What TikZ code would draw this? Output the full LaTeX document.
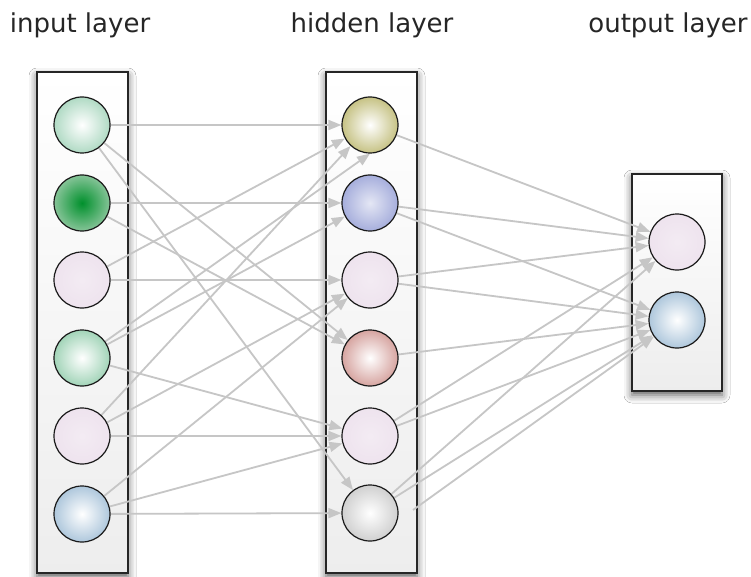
\documentclass[tikz,border=0pt]{standalone}
\usepackage{fontspec}
\setmainfont{DejaVu Sans}
\usetikzlibrary{arrows.meta,shadows.blur}
\definecolor{edgegray}{HTML}{C6C6C6}
\definecolor{mintA}{HTML}{B0DAC4}
\definecolor{mintB}{HTML}{A2D4B8}
\definecolor{darkgreen}{HTML}{00902C}
\definecolor{lightgreen}{HTML}{86C498}
\definecolor{lav}{HTML}{EEE3EE}
\definecolor{paleblue}{HTML}{AEC7DC}
\definecolor{olive}{HTML}{C6C284}
\definecolor{peri}{HTML}{A6AEDC}
\definecolor{pinkred}{HTML}{D6A4A0}
\definecolor{lgray}{HTML}{D0D0D0}
\pgfdeclarelayer{bg}
\pgfdeclarelayer{edges}
\pgfsetlayers{bg,edges,main}
\begin{document}
\begin{tikzpicture}[x=1pt,y=-1pt,
  layerbox/.style={draw=black!85, line width=1.5pt, top color=white, bottom color=black!7,
    blur shadow={shadow xshift=0pt, shadow yshift=-4pt, shadow blur radius=8pt, shadow opacity=65}},
  neuron/.style={circle, draw=black!90, line width=1.2pt, minimum size=56pt, inner sep=0pt},
  edge/.style={draw=edgegray, line width=1.8pt, -{Triangle[length=13pt,width=10pt]}},
  lbl/.style={font=\fontsize{26pt}{30pt}\selectfont, text=black!85, anchor=base, inner sep=0pt}
]
\useasboundingbox (0,0) rectangle (751,577);
\begin{pgfonlayer}{bg}
\fill[white] (0,0) rectangle (751,577);
\node[layerbox, minimum width=91pt, minimum height=501pt] (inbox) at (82.5,322.5) {};
\node[layerbox, minimum width=91pt, minimum height=501pt] (hidbox) at (371.5,322.5) {};
\node[layerbox, minimum width=90pt, minimum height=217pt] (outbox) at (677,282.5) {};
\end{pgfonlayer}

\node[lbl] (tin) at (80,33) {input layer};
\node[lbl] (thid) at (372,33) {hidden layer};
\node[lbl] (tout) at (668,33) {output layer};

% input neurons
\node[neuron, inner color=white, outer color=mintA] (I1) at (82,125) {};
\node[neuron, inner color=darkgreen, outer color=lightgreen] (I2) at (82,203) {};
\node[neuron, inner color=lav!70!white, outer color=lav] (I3) at (82,280) {};
\node[neuron, inner color=white, outer color=mintB] (I4) at (82,358) {};
\node[neuron, inner color=lav!70!white, outer color=lav] (I5) at (82,436) {};
\node[neuron, inner color=white, outer color=paleblue] (I6) at (82,514) {};

% hidden neurons
\node[neuron, inner color=white, outer color=olive] (H1) at (370,125) {};
\node[neuron, inner color=peri!30!white, outer color=peri] (H2) at (370,203) {};
\node[neuron, inner color=lav!70!white, outer color=lav] (H3) at (370,280) {};
\node[neuron, inner color=white, outer color=pinkred] (H4) at (370,358) {};
\node[neuron, inner color=lav!70!white, outer color=lav] (H5) at (370,436) {};
\node[neuron, inner color=white, outer color=lgray] (H6) at (370,513) {};

% output neurons
\node[neuron, inner color=lav!70!white, outer color=lav] (O1) at (677,242) {};
\node[neuron, inner color=white, outer color=paleblue] (O2) at (677,320) {};

\coordinate (X) at (413,510);

\begin{pgfonlayer}{edges}
\draw[edge] (I1) -- (H1);
\draw[edge] (I1) -- (H4);
\draw[edge] (I1) -- (H6);
\draw[edge] (I2) -- (H2);
\draw[edge] (I2) -- (H4);
\draw[edge] (I3) -- (H1);
\draw[edge] (I3) -- (H3);
\draw[edge] (I4) -- (H1.south);
\draw[edge] (I4) -- (H2);
\draw[edge] (I4) -- (H5);
\draw[edge] (I5) -- (H1);
\draw[edge] (I5) -- (H3);
\draw[edge] (I5) -- (H5);
\draw[edge] (I6) -- (H3);
\draw[edge] (I6) -- (H5);
\draw[edge] (I6) -- (H6);
\draw[edge] (H1) -- (O1);
\draw[edge] (H2) -- (O1);
\draw[edge] (H2) -- (O2);
\draw[edge] (H3) -- (O1);
\draw[edge] (H3) -- (O2);
\draw[edge] (H4) -- (O2);
\draw[edge] (H5) -- (O1);
\draw[edge] (H5) -- (O2);
\draw[edge] (H6) -- (O1);
\draw[edge] (H6) -- (O2);
\draw[edge] (X) -- (O2);
\end{pgfonlayer}
\end{tikzpicture}
\end{document}
